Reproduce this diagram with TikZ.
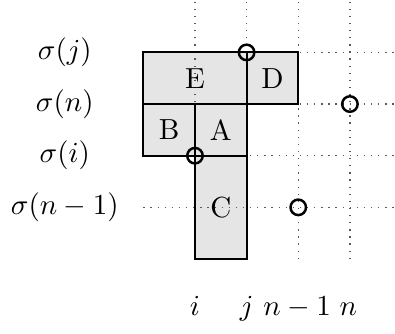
\documentclass[tikz,border=0pt]{standalone}
\usepackage{tikz}
\begin{document}
\begin{tikzpicture}[x=0.625cm,y=0.625cm,
  boxfill/.style={fill=black!10},
  boxline/.style={draw=black,line width=0.65pt},
  gridline/.style={draw=black!65,dotted,line width=0.45pt},
  mark circle/.style={draw=black,line width=0.85pt},
  boxlabel/.style={inner sep=0pt,anchor=center},
  rowlabel/.style={anchor=center},
  collabel/.style={anchor=base}]
\useasboundingbox (-2.775,-1.452) rectangle (4.873,5.015);
% fills
\fill[boxfill] (0,3) rectangle (3,4);
\fill[boxfill] (0,2) rectangle (2,3);
\fill[boxfill] (1,0) rectangle (2,2);
% dotted grid
\foreach \x in {1,2,3,4} \draw[gridline] (\x,0) -- (\x,5.015);
\foreach \y in {1,2,3,4} \draw[gridline] (0,\y) -- (4.873,\y);
% box outlines
\draw[boxline] (0,3) rectangle (2,4);
\draw[boxline] (2,3) rectangle (3,4);
\draw[boxline] (0,2) rectangle (1,3);
\draw[boxline] (1,2) rectangle (2,3);
\draw[boxline] (1,0) rectangle (2,2);
% box letters
\node[boxlabel] (E) at (1,3.5) {E};
\node[boxlabel] (D) at (2.5,3.5) {D};
\node[boxlabel] (B) at (0.5,2.5) {B};
\node[boxlabel] (A) at (1.5,2.5) {A};
\node[boxlabel] (C) at (1.5,1) {C};
% circles
\coordinate (pj) at (2,4);
\coordinate (pn) at (4,3);
\coordinate (pi) at (1,2);
\coordinate (pm) at (3,1);
\foreach \p in {pj,pn,pi,pm} \draw[mark circle] (\p) circle (0.15);
% row labels
\node[rowlabel] (sj) at (-1.52,4) {$\sigma(j)$};
\node[rowlabel] (sn) at (-1.52,3) {$\sigma(n)$};
\node[rowlabel] (si) at (-1.52,2) {$\sigma(i)$};
\node[rowlabel] (sm) at (-1.52,1) {$\sigma(n-1)$};
% column labels
\node[collabel] (ci) at (1,-1.10) {$i$};
\node[collabel] (cj) at (2,-1.10) {$j$};
\node[collabel] (cm) at (2.98,-1.10) {$n-1$};
\node[collabel] (cn) at (3.97,-1.10) {$n$};
\end{tikzpicture}
\end{document}
